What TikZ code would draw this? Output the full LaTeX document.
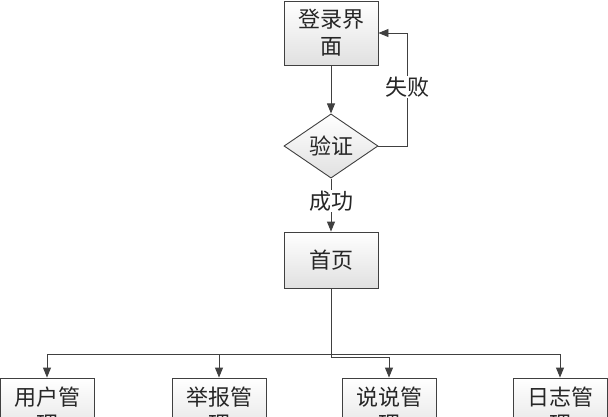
\documentclass[tikz,border=0pt]{standalone}
\usepackage{fontspec}
\setmainfont{Noto Sans CJK SC}
\usetikzlibrary{shapes.geometric,arrows.meta}
\definecolor{ln}{HTML}{404040}
\begin{document}
\begin{tikzpicture}[x=1pt,y=-1pt,
  txt/.style={font=\fontsize{22}{27}\selectfont, text=black!85},
  box/.style={txt, draw=ln, line width=0.9pt, top color=white, bottom color=black!12,
    minimum width=94pt, minimum height=56pt, inner sep=0pt, align=center},
  dia/.style={txt, diamond, draw=ln, line width=0.9pt, top color=white, bottom color=black!12,
    minimum width=94pt, minimum height=56pt, inner sep=0pt},
  conn/.style={draw=ln, line width=0.9pt},
  arr/.style={conn, -{Triangle[length=10pt,width=8pt]}},
  lab/.style={txt, fill=white, inner sep=1pt}]
\useasboundingbox (0,0) rectangle (608,416);
\clip (0,0) rectangle (608,416);
\fill[white] (0,0) rectangle (608,416);
\node[box, minimum height=64pt] (login) at (331,33) {登录界\\面};
\node[dia] (verify) at (331,146) {验证};
\node[box] (home) at (331,260) {首页};
\node[box, minimum height=64pt] (b1) at (47,410) {用户管\\理};
\node[box, minimum height=64pt] (b2) at (219,410) {举报管\\理};
\node[box, minimum height=64pt] (b3) at (389,410) {说说管\\理};
\node[box, minimum height=64pt] (b4) at (560,410) {日志管\\理};
\draw[arr] (login) -- (verify);
\coordinate (fk) at (407,146);
\draw[arr] (verify.east) -- (fk) |- (login.east);
\node[lab] (fail) at (407,87) {失败};
\draw[arr] (verify) -- (home);
\node[lab] (ok) at (331,201) {成功};
\coordinate (j) at (331,354);
\coordinate (k) at (331,357);
\draw[arr] (home.south) -- (j) -| (b1.north);
\draw[arr] (j) -| (b2.north);
\draw[arr] (j) -| (b4.north);
\draw[arr] (home.south) -- (k) -| (b3.north);
\end{tikzpicture}
\end{document}
